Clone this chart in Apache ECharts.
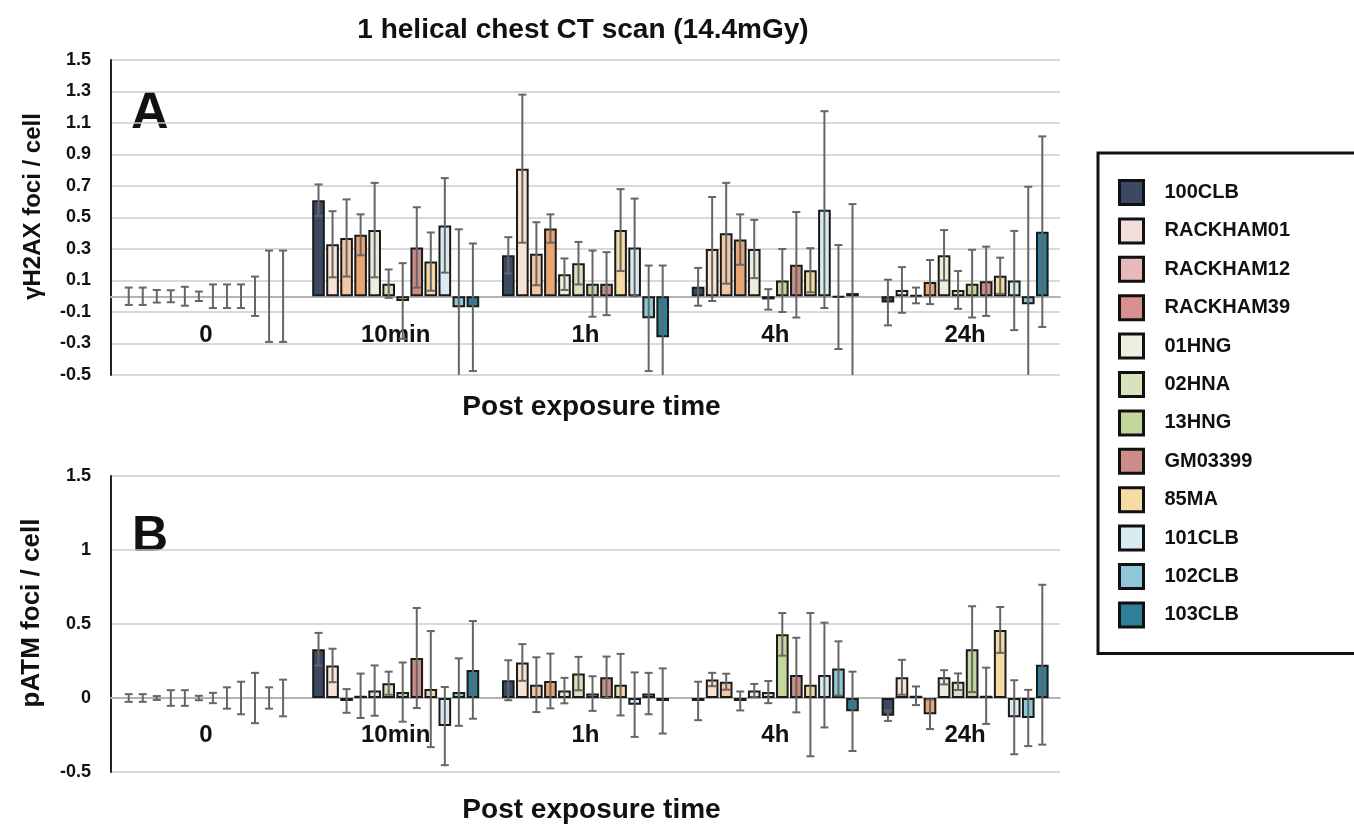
<!DOCTYPE html>
<html>
<head>
<meta charset="utf-8">
<title>1 helical chest CT scan</title>
<script src="https://cdn.jsdelivr.net/npm/echarts@6/dist/echarts.min.js"></script>
<style>
  html, body { margin: 0; padding: 0; background: #fff; }
  #main { width: 1354px; height: 825px; }
</style>
</head>
<body>
<div id="main"></div>
<script>
// time points (categories) and cell lines (series)
var timePoints = ['0', '10min', '1h', '4h', '24h'];
var cellLines = ['100CLB', 'RACKHAM01', 'RACKHAM12', 'RACKHAM39', '01HNG', '02HNA',
                 '13HNG', 'GM03399', '85MA', '101CLB', '102CLB', '103CLB'];

// panel A: gammaH2AX foci / cell, one row per cell line, one column per time point
var h2axMean = [
    [0, 0.61, 0.26, 0.06, -0.04],
    [0, 0.33, 0.81, 0.30, 0.04],
    [0, 0.37, 0.27, 0.40, 0.005],
    [0, 0.39, 0.43, 0.36, 0.09],
    [0, 0.42, 0.14, 0.30, 0.26],
    [0, 0.08, 0.21, -0.02, 0.04],
    [0, -0.03, 0.08, 0.10, 0.08],
    [0, 0.31, 0.08, 0.20, 0.095],
    [0, 0.22, 0.42, 0.165, 0.13],
    [0, 0.45, 0.31, 0.55, 0.10],
    [0, -0.07, -0.14, -0.005, -0.05],
    [0, -0.07, -0.26, 0.02, 0.41]
];
var h2axErr = [
    [0.055, 0.10, 0.115, 0.12, 0.145],
    [0.055, 0.21, 0.47, 0.33, 0.145],
    [0.04, 0.245, 0.20, 0.32, 0.05],
    [0.038, 0.13, 0.09, 0.16, 0.14],
    [0.06, 0.30, 0.10, 0.185, 0.16],
    [0.03, 0.09, 0.135, 0.065, 0.12],
    [0.075, 0.24, 0.21, 0.20, 0.215],
    [0.075, 0.255, 0.20, 0.335, 0.22],
    [0.075, 0.185, 0.26, 0.14, 0.115],
    [0.125, 0.30, 0.31, 0.625, 0.315],
    [0.29, 0.495, 0.335, 0.33, 0.745],
    [0.29, 0.405, 0.455, 0.565, 0.605]
];

// panel B: pATM foci / cell
var patmMean = [
    [0, 0.33, 0.12, -0.02, -0.12],
    [0, 0.22, 0.24, 0.125, 0.14],
    [0, -0.02, 0.09, 0.11, 0.015],
    [0, 0.015, 0.115, -0.02, -0.11],
    [0, 0.05, 0.05, 0.05, 0.14],
    [0, 0.10, 0.165, 0.04, 0.11],
    [0, 0.04, 0.03, 0.43, 0.33],
    [0, 0.27, 0.14, 0.155, 0.015],
    [0, 0.06, 0.09, 0.09, 0.46],
    [0, -0.19, -0.045, 0.155, -0.13],
    [0, 0.04, 0.03, 0.20, -0.135],
    [0, 0.19, -0.02, -0.09, 0.225]
];
var patmErr = [
    [0.026, 0.11, 0.135, 0.13, 0.035],
    [0.026, 0.113, 0.124, 0.045, 0.118],
    [0.013, 0.08, 0.185, 0.054, 0.063],
    [0.053, 0.15, 0.185, 0.064, 0.10],
    [0.053, 0.17, 0.086, 0.045, 0.048],
    [0.015, 0.078, 0.113, 0.075, 0.056],
    [0.035, 0.20, 0.117, 0.144, 0.29],
    [0.072, 0.338, 0.14, 0.252, 0.19],
    [0.11, 0.392, 0.208, 0.484, 0.155],
    [0.17, 0.264, 0.218, 0.354, 0.25],
    [0.072, 0.228, 0.14, 0.183, 0.19],
    [0.124, 0.33, 0.22, 0.268, 0.54]
];

// colours: bars and legend swatches differ a little in the original
var barColors = ['#3b4a62', '#f7e4d6', '#f3c6a4', '#e9a775', '#e9efdc', '#d6e3bc',
                 '#c4d79b', '#c98c86', '#f4dba3', '#d9ecf2', '#8fc7d9', '#2f7f98'];
var legendColors = ['#3b4a62', '#f2dcdc', '#e9b9b9', '#d98f8f', '#ebf0df', '#d6e3bd',
                    '#c4d79b', '#cc8c88', '#f5dca5', '#d9ecf2', '#8fc7d9', '#2f7f98'];

var FONT = "'Liberation Sans', Arial, sans-serif";
var BAR_GAP = 0.11;
var CAT_GAP = 0.12;

var myChart = echarts.init(document.getElementById('main'));

// error bars, placed on the same slots as the grouped bars
function renderErr(params, api) {
    var cat = api.value(0);
    var m = api.value(1);
    var e = api.value(2);
    var k = api.value(3);
    var n = cellLines.length;
    var band = api.size([1, 0])[0];
    var total = band * (1 - CAT_GAP);
    var w = total / (n + (n - 1) * BAR_GAP);
    var cx = api.coord([cat, 0])[0] - total / 2 + k * w * (1 + BAR_GAP) + w / 2;
    var top = api.coord([cat, m + e])[1];
    var bot = api.coord([cat, m - e])[1];
    var cap = 4;
    var st = { stroke: '#666', lineWidth: 2 };
    return {
        type: 'group',
        children: [
            { type: 'line', shape: { x1: cx, y1: top, x2: cx, y2: bot }, style: st },
            { type: 'line', shape: { x1: cx - cap, y1: top, x2: cx + cap, y2: top }, style: st },
            { type: 'line', shape: { x1: cx - cap, y1: bot, x2: cx + cap, y2: bot }, style: st }
        ]
    };
}

function errData(mean, err) {
    var out = [];
    for (var k = 0; k < cellLines.length; k++) {
        for (var c = 0; c < timePoints.length; c++) {
            out.push([c, mean[k][c], err[k][c], k]);
        }
    }
    return out;
}

// zero-height bars get no outline (nothing shows at time 0)
function barData(row) {
    return row.map(function (v) {
        return v === 0 ? { value: v, itemStyle: { borderWidth: 0 } } : v;
    });
}

var series = [];
[[h2axMean, h2axErr], [patmMean, patmErr]].forEach(function (panel, g) {
    cellLines.forEach(function (name, k) {
        series.push({
            name: name,
            type: 'bar',
            xAxisIndex: g,
            yAxisIndex: g,
            data: barData(panel[0][k]),
            barGap: (BAR_GAP * 100) + '%',
            barCategoryGap: (CAT_GAP * 100) + '%',
            itemStyle: { color: barColors[k], borderColor: '#1a1a1a', borderWidth: 2 },
            emphasis: { disabled: true }
        });
    });
    series.push({
        name: 'err' + g,
        type: 'custom',
        xAxisIndex: g,
        yAxisIndex: g,
        renderItem: renderErr,
        encode: { x: 0, y: 1 },
        clip: true,
        z: 5,
        silent: true,
        data: errData(panel[0], panel[1])
    });
});

function xAxisFor(g) {
    return {
        type: 'category',
        gridIndex: g,
        data: timePoints,
        axisTick: { show: false },
        axisLine: { onZero: true, lineStyle: { color: '#b3b3b3', width: 2 } },
        axisLabel: { margin: g === 0 ? -52 : -49, fontFamily: FONT, fontWeight: 'bold', fontSize: 24, color: '#111' },
        name: 'Post exposure time',
        nameLocation: 'middle',
        nameGap: g === 0 ? 18 : 24,
        nameTextStyle: { fontFamily: FONT, fontWeight: 'bold', fontSize: 28, color: '#111', padding: [0, 0, 0, 12] }
    };
}

function yAxisFor(g, name, interval, nameSize) {
    return {
        type: 'value',
        gridIndex: g,
        min: -0.5,
        max: 1.5,
        interval: interval,
        name: name,
        nameLocation: 'middle',
        nameGap: 66,
        nameTextStyle: { fontFamily: FONT, fontWeight: 'bold', fontSize: nameSize, color: '#111', padding: [0, 0, 0, 22] },
        axisLine: { show: true, lineStyle: { color: '#222', width: 2 } },
        axisTick: { show: false },
        axisLabel: {
            margin: 20,
            fontFamily: FONT,
            fontWeight: 'bold',
            fontSize: 18,
            color: '#111',
            formatter: function (v) {
                return interval === 0.2 ? v.toFixed(1) : String(Math.round(v * 10) / 10);
            }
        },
        splitLine: { lineStyle: { color: '#cdcdcd', width: 1.5 } }
    };
}

var option = {
    animation: false,
    backgroundColor: '#fff',
    title: {
        text: '1 helical chest CT scan (14.4mGy)',
        left: 578,
        top: 11,
        textAlign: 'center',
        textStyle: { fontFamily: FONT, fontWeight: 'bold', fontSize: 28, color: '#111' }
    },
    legend: {
        orient: 'vertical',
        left: 1098,
        top: 153,
        padding: [26, 90, 25, 20],
        itemGap: 11.4,
        itemWidth: 24,
        itemHeight: 24,
        icon: 'rect',
        selectedMode: false,
        borderColor: '#111',
        borderWidth: 3,
        itemStyle: { borderColor: '#111', borderWidth: 3 },
        textStyle: { fontFamily: FONT, fontWeight: 'bold', fontSize: 20, color: '#111', padding: [0, 0, 0, 16] },
        data: cellLines.map(function (name, k) {
            return { name: name, itemStyle: { color: legendColors[k] } };
        })
    },
    grid: [
        { left: 111, right: 294, top: 60, height: 315, outerBoundsMode: 'none', containLabel: false },
        { left: 111, right: 294, top: 476, height: 296, outerBoundsMode: 'none', containLabel: false }
    ],
    xAxis: [xAxisFor(0), xAxisFor(1)],
    yAxis: [yAxisFor(0, 'γH2AX foci / cell', 0.2, 24), yAxisFor(1, 'pATM foci / cell', 0.5, 26)],
    graphic: [
        { type: 'text', left: 131, top: 88, style: { text: 'A', font: 'bold 52px ' + FONT, fill: '#111' } },
        { type: 'text', left: 132, top: 512, style: { text: 'B', font: 'bold 50px ' + FONT, fill: '#111' } }
    ],
    series: series
};

myChart.setOption(option);
window.onresize = function () {
    myChart.resize();
};
</script>
</body>
</html>
